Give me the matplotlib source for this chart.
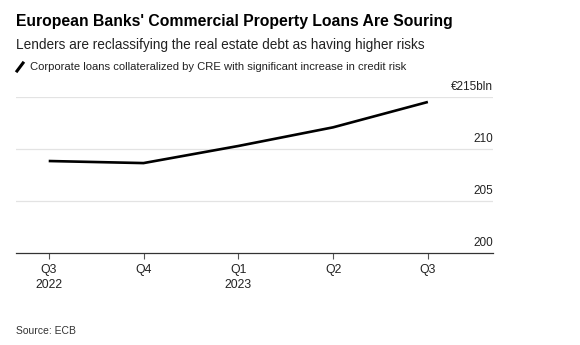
import matplotlib.pyplot as plt
from matplotlib.lines import Line2D

plt.rcParams['font.family'] = ['Liberation Sans', 'DejaVu Sans']

# quarterly CRE-backed corporate loans with significant increase in credit risk (EUR bn)
quarters = ['Q3\n2022', 'Q4', 'Q1\n2023', 'Q2', 'Q3']
loans = [208.85, 208.65, 210.3, 212.1, 214.55]
y_ticks = [200, 205, 210, 215]
y_labels = ['200', '205', '210', '€215bln']

fig = plt.figure(figsize=(5.8, 3.45), dpi=100)
ax = fig.add_axes([0.0276, 0.2675, 0.8224, 0.4505])

x = list(range(len(quarters)))
ax.plot(x, loans, color='black', lw=1.9, solid_capstyle='butt', clip_on=False, zorder=3)

ax.set_xlim(-0.345, 4.687)
ax.set_ylim(200, 215)

# horizontal gridlines and right-side labels sitting above them
for v, lab in zip(y_ticks, y_labels):
    if v > 200:
        ax.axhline(v, color='#e3e3e3', lw=0.9, zorder=1)
    ax.annotate(lab, xy=(1, v), xycoords=ax.get_yaxis_transform(),
                xytext=(0, 3), textcoords='offset points',
                ha='right', va='bottom', fontsize=8.5, color='#222222')

ax.set_yticks([])
ax.set_xticks(x)
ax.set_xticklabels(quarters, fontsize=8.8, color='#222222', linespacing=1.3)
ax.tick_params(axis='x', length=4, width=0.8, color='#555555', pad=4)

for side in ['top', 'right', 'left']:
    ax.spines[side].set_visible(False)
ax.spines['bottom'].set_color('#333333')
ax.spines['bottom'].set_linewidth(0.9)

# header block
fig.text(0.0276, 1 - 21.5 / 345, "European Banks' Commercial Property Loans Are Souring",
         fontsize=11.3, fontweight='bold', va='center', ha='left', color='black')
fig.text(0.0276, 1 - 45 / 345, 'Lenders are reclassifying the real estate debt as having higher risks',
         fontsize=9.8, va='center', ha='left', color='#222222')

# legend: slanted line key
fig.add_artist(Line2D([17 / 580, 23 / 580], [1 - 71 / 345, 1 - 63 / 345],
                      color='black', lw=2.2, transform=fig.transFigure))
fig.text(30.5 / 580, 1 - 66.5 / 345,
         'Corporate loans collateralized by CRE with significant increase in credit risk',
         fontsize=8.1, va='center', ha='left', color='#222222')

fig.text(0.0276, 1 - 331 / 345, 'Source: ECB', fontsize=7.5, va='center', ha='left', color='#333333')

fig.savefig('out.png', dpi=100)
